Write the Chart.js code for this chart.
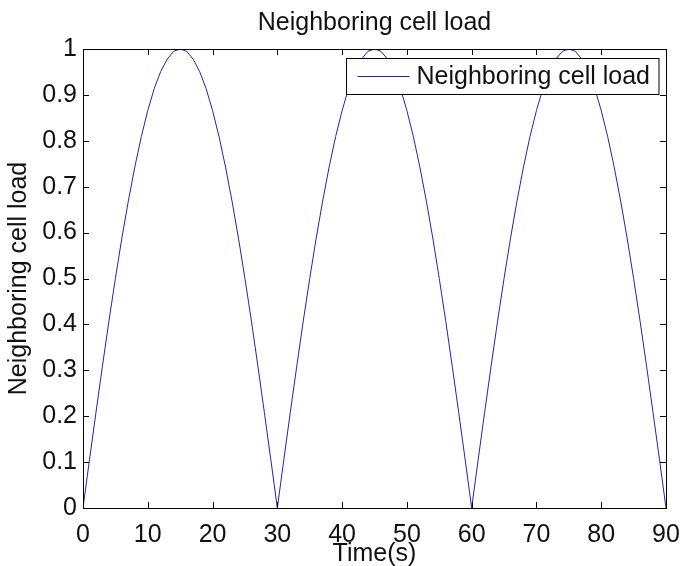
<!DOCTYPE html>
<html>
<head>
<meta charset="utf-8">
<script src="https://cdn.jsdelivr.net/npm/chart.js@4"></script>
<style>
  body { margin: 0; background: #fff; }
  canvas { display: block; }
</style>
</head>
<body>
<canvas id="grafico" width="682" height="566"></canvas>
<script>
// dados (tempo em segundos, carga da célula vizinha)
const tempo = [
  0, 1, 2, 3, 4, 5, 6, 7, 8, 9, 10, 11, 12, 13, 14, 15, 16, 17, 18, 19, 20,
  21, 22, 23, 24, 25, 26, 27, 28, 29, 30, 31, 32, 33, 34, 35, 36, 37, 38, 39, 40,
  41, 42, 43, 44, 45, 46, 47, 48, 49, 50, 51, 52, 53, 54, 55, 56, 57, 58, 59, 60,
  61, 62, 63, 64, 65, 66, 67, 68, 69, 70, 71, 72, 73, 74, 75, 76, 77, 78, 79, 80,
  81, 82, 83, 84, 85, 86, 87, 88, 89, 90
];
const carga = [
  0, 0.105, 0.208, 0.309, 0.407, 0.5, 0.588, 0.669, 0.743, 0.809, 0.866,
  0.914, 0.951, 0.978, 0.995, 1, 0.995, 0.978, 0.951, 0.914, 0.866,
  0.809, 0.743, 0.669, 0.588, 0.5, 0.407, 0.309, 0.208, 0.105, 0,
  0.105, 0.208, 0.309, 0.407, 0.5, 0.588, 0.669, 0.743, 0.809, 0.866,
  0.914, 0.951, 0.978, 0.995, 1, 0.995, 0.978, 0.951, 0.914, 0.866,
  0.809, 0.743, 0.669, 0.588, 0.5, 0.407, 0.309, 0.208, 0.105, 0,
  0.105, 0.208, 0.309, 0.407, 0.5, 0.588, 0.669, 0.743, 0.809, 0.866,
  0.914, 0.951, 0.978, 0.995, 1, 0.995, 0.978, 0.951, 0.914, 0.866,
  0.809, 0.743, 0.669, 0.588, 0.5, 0.407, 0.309, 0.208, 0.105, 0
];
const rotulosX = ['0', '10', '20', '30', '40', '50', '60', '70', '80', '90'];
const rotulosY = ['0', '0.1', '0.2', '0.3', '0.4', '0.5', '0.6', '0.7', '0.8', '0.9', '1'];
const titulo = 'Neighboring cell load';

const fonte = "'Liberation Sans', Arial, Helvetica, sans-serif";
const corLinha = '#2323b0';
const corTexto = '#111';

// título centrado na área do gráfico, caixa dos eixos + marcas internas (estilo matlab) + legenda
const caixaMatlab = {
  id: 'caixaMatlab',
  afterDatasetsDraw(chart) {
    const { ctx, chartArea: a, scales } = chart;
    const tam = 6;
    ctx.save();

    ctx.fillStyle = corTexto;
    ctx.font = '25px ' + fonte;
    ctx.textAlign = 'center';
    ctx.textBaseline = 'middle';
    ctx.fillText(titulo, (a.left + a.right) / 2, 23);

    ctx.strokeStyle = '#000';
    ctx.lineWidth = 1;
    ctx.beginPath();
    scales.x.ticks.forEach(t => {
      const px = Math.round(scales.x.getPixelForValue(t.value)) + 0.5;
      ctx.moveTo(px, a.bottom); ctx.lineTo(px, a.bottom - tam);
      ctx.moveTo(px, a.top); ctx.lineTo(px, a.top + tam);
    });
    scales.y.ticks.forEach(t => {
      const py = Math.round(scales.y.getPixelForValue(t.value)) + 0.5;
      ctx.moveTo(a.left, py); ctx.lineTo(a.left + tam, py);
      ctx.moveTo(a.right, py); ctx.lineTo(a.right - tam, py);
    });
    ctx.stroke();
    ctx.strokeRect(Math.round(a.left) + 0.5, Math.round(a.top) + 0.5,
      Math.round(a.right - a.left), Math.round(a.bottom - a.top));

    // legenda
    const texto = chart.data.datasets[0].label;
    ctx.textAlign = 'left';
    const larguraTexto = ctx.measureText(texto).width;
    const larg = 11 + 52 + 7 + larguraTexto + 9;
    const alt = 36;
    const x0 = Math.round(a.right - 8 - larg) + 0.5;
    const y0 = Math.round(a.top + 9) + 0.5;
    ctx.fillStyle = '#fff';
    ctx.fillRect(x0, y0, larg, alt);
    ctx.strokeRect(x0, y0, larg, alt);
    const ym = y0 + alt / 2;
    ctx.strokeStyle = corLinha;
    ctx.beginPath();
    ctx.moveTo(x0 + 11, ym); ctx.lineTo(x0 + 63, ym);
    ctx.stroke();
    ctx.fillStyle = corTexto;
    ctx.fillText(texto, x0 + 70, ym + 1);
    ctx.restore();
  }
};

const ctx = document.getElementById('grafico').getContext('2d');
const chart = new Chart(ctx, {
  type: 'line',
  data: {
    datasets: [{
      label: titulo,
      data: tempo.map((t, i) => ({ x: t, y: carga[i] })),
      borderColor: corLinha,
      borderWidth: 1,
      pointRadius: 0,
      tension: 0,
      fill: false
    }]
  },
  options: {
    responsive: false,
    animation: false,
    layout: { padding: { left: 0, right: 16, top: 49, bottom: -3 } },
    plugins: {
      legend: { display: false },
      tooltip: { enabled: false },
      title: { display: false }
    },
    scales: {
      x: {
        type: 'linear',
        min: 0,
        max: 90,
        grid: { display: false, drawTicks: false },
        border: { display: false },
        ticks: {
          stepSize: 10,
          padding: 12,
          color: corTexto,
          font: { family: fonte, size: 25 },
          maxRotation: 0,
          callback: (v, i) => rotulosX[i]
        },
        title: {
          display: true,
          text: 'Time(s)',
          color: corTexto,
          font: { family: fonte, size: 25 },
          padding: { top: 0, bottom: 0 }
        },
        afterFit: s => { s.height = 61; s.paddingLeft = 0; s.paddingRight = 0; }
      },
      y: {
        min: 0,
        max: 1,
        grid: { display: false, drawTicks: false },
        border: { display: false },
        ticks: {
          stepSize: 0.1,
          padding: 6,
          color: corTexto,
          font: { family: fonte, size: 25 },
          callback: (v, i) => rotulosY[i]
        },
        title: {
          display: true,
          text: 'Neighboring cell load',
          color: corTexto,
          font: { family: fonte, size: 25 },
          padding: { top: 4, bottom: 0 }
        },
        afterFit: s => { s.width = 83; s.paddingTop = 0; s.paddingBottom = 0; }
      }
    }
  },
  plugins: [caixaMatlab]
});
</script>
</body>
</html>
